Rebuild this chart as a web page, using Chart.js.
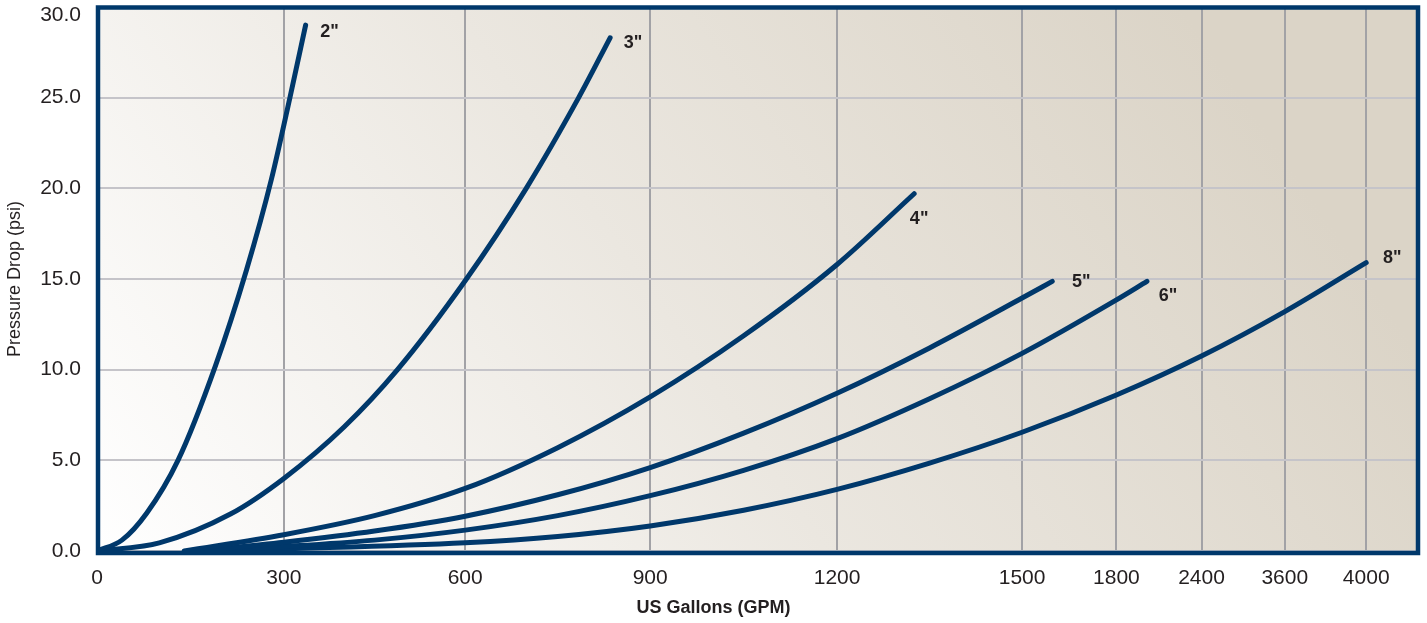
<!DOCTYPE html>
<html>
<head>
<meta charset="utf-8">
<script src="https://cdn.jsdelivr.net/npm/chart.js@4.4.1/dist/chart.umd.min.js"></script>
<style>
html,body{margin:0;padding:0;background:#ffffff;}
#wrap{position:relative;width:1427px;height:623px;}
</style>
</head>
<body>
<div id="wrap"><canvas id="c"></canvas></div>
<script>
// ---------- data ----------
const SERIES_NAMES = ['2"', '3"', '4"', '5"', '6"', '8"'];

const GPM_2 = [0, 40, 80, 130, 190, 240, 280, 310, 336];
const PSI_2 = [0, 0.6, 2.1, 5.0, 10.2, 15.5, 20.5, 25.0, 29.0];

const GPM_3 = [0, 100, 215, 300, 400, 488, 600, 699, 784, 835];
const PSI_3 = [0, 0.45, 2.05, 4.0, 6.85, 10.0, 14.9, 20.0, 25.0, 28.3];

const GPM_4 = [140, 300, 450, 600, 750, 900, 1050, 1200, 1325];
const PSI_4 = [0, 0.9, 1.95, 3.45, 5.7, 8.5, 11.87, 15.8, 19.7];

const GPM_5 = [165, 300, 450, 600, 750, 900, 1050, 1200, 1350, 1500, 1596];
const PSI_5 = [0, 0.48, 1.1, 1.92, 3.1, 4.6, 6.5, 8.7, 11.2, 13.95, 14.87];

const GPM_6 = [165, 300, 450, 600, 750, 900, 1050, 1200, 1350, 1500, 1800, 2015];
const PSI_6 = [0, 0.25, 0.6, 1.15, 1.95, 3.05, 4.45, 6.2, 8.4, 10.9, 13.85, 14.87];

const GPM_8 = [165, 300, 600, 750, 900, 1050, 1200, 1350, 1500, 1800, 2400, 3600, 4000];
const PSI_8 = [0, 0.12, 0.45, 0.8, 1.38, 2.25, 3.4, 4.85, 6.55, 8.6, 10.75, 13.2, 15.9];

const X_TICKS = [0, 300, 600, 900, 1200, 1500, 1800, 2400, 3600, 4000];
const Y_TICKS = [0, 5, 10, 15, 20, 25, 30];

// ---------- axis layout (piecewise GPM axis as drawn) ----------
const X_TICK_UNITS = [0, 1.01, 1.99, 2.99, 4.0, 5.0, 5.51, 5.97, 6.42, 6.86];
const X_UNITS_END = 7.14;

const FONT = "'Liberation Sans', Arial, Helvetica, sans-serif";
const NAVY = '#00386b';
const TEXT = '#231f20';
const LABEL_OFFSETS = [[24, 7], [23, 5], [5, 25], [29, 1], [21, 15], [26, -5]];

function toUnits(v) {
  const t = X_TICKS, u = X_TICK_UNITS, n = t.length;
  if (v <= t[0]) return u[0];
  for (let i = 0; i < n - 1; i++) {
    if (v <= t[i + 1]) return u[i] + (v - t[i]) / (t[i + 1] - t[i]) * (u[i + 1] - u[i]);
  }
  return u[n - 1] + (v - t[n - 1]) / (t[n - 1] - t[n - 2]) * (u[n - 1] - u[n - 2]);
}
function fromUnits(w) {
  const t = X_TICKS, u = X_TICK_UNITS, n = t.length;
  for (let i = 0; i < n - 1; i++) {
    if (w <= u[i + 1]) return t[i] + (w - u[i]) / (u[i + 1] - u[i]) * (t[i + 1] - t[i]);
  }
  return t[n - 1] + (w - u[n - 1]) / (u[n - 1] - u[n - 2]) * (t[n - 1] - t[n - 2]);
}

class BrokenScale extends Chart.LinearScale {
  static id = 'broken';
  static defaults = { ticks: { callback: (v) => String(v) } };
  buildTicks() { return X_TICKS.map(v => ({ value: v })); }
  getPixelForValue(v) { return this.getPixelForDecimal(toUnits(v) / X_UNITS_END); }
  getValueForPixel(p) { return fromUnits(this.getDecimalForPixel(p) * X_UNITS_END); }
}
Chart.register(BrokenScale);

const GPM = [GPM_2, GPM_3, GPM_4, GPM_5, GPM_6, GPM_8];
const PSI = [PSI_2, PSI_3, PSI_4, PSI_5, PSI_6, PSI_8];

const datasets = SERIES_NAMES.map((name, i) => ({
  label: name,
  data: GPM[i].map((g, j) => ({ x: g, y: PSI[i][j] })),
  borderColor: NAVY,
  borderWidth: 5,
  pointRadius: 0,
  fill: false,
  cubicInterpolationMode: 'monotone',
  borderCapStyle: 'round',
  borderJoinStyle: 'round'
}));

const decor = {
  id: 'decor',
  beforeDraw(chart) {
    const { ctx, chartArea: a } = chart;
    const W = a.right - a.left, H = a.bottom - a.top;
    const g = ctx.createLinearGradient(a.left, a.bottom, a.left + W * 0.75, a.top - H * 0.25);
    g.addColorStop(0, '#ffffff');
    g.addColorStop(0.5, '#ebe7e0');
    g.addColorStop(1, '#dbd4c7');
    ctx.save();
    ctx.fillStyle = g;
    ctx.fillRect(a.left, a.top, W, H);
    ctx.restore();
  },
  beforeDatasetsDraw(chart) {
    const { ctx, chartArea: a } = chart;
    ctx.save();
    ctx.strokeStyle = NAVY;
    ctx.lineWidth = 4.5;
    ctx.strokeRect(a.left + 1, a.top + 0.5, a.right - a.left - 1, a.bottom - a.top + 1.5);
    ctx.restore();
  },
  afterDatasetsDraw(chart) {
    const { ctx } = chart;
    ctx.save();
    ctx.font = 'bold 18px ' + FONT;
    ctx.fillStyle = TEXT;
    ctx.textAlign = 'center';
    ctx.textBaseline = 'middle';
    chart.data.datasets.forEach((ds, i) => {
      const pts = chart.getDatasetMeta(i).data;
      const p = pts[pts.length - 1];
      ctx.fillText(ds.label, p.x + LABEL_OFFSETS[i][0], p.y + LABEL_OFFSETS[i][1]);
    });
    // x-axis title, centred on the page as in the original
    ctx.font = 'bold 18px ' + FONT;
    ctx.fillText('US Gallons (GPM)', chart.width / 2, 608);
    ctx.restore();
  }
};

new Chart(document.getElementById('c'), {
  type: 'line',
  data: { datasets },
  plugins: [decor],
  options: {
    responsive: true,
    maintainAspectRatio: false,
    animation: false,
    layout: { padding: { left: 0, top: 7, right: 9, bottom: 0 } },
    plugins: { legend: { display: false }, tooltip: { enabled: false } },
    scales: {
      x: {
        type: 'broken',
        min: 0,
        max: 4000,
        grid: { color: '#a2a2a6', lineWidth: 2, drawTicks: false },
        border: { display: false },
        ticks: {
          autoSkip: false, maxRotation: 0, minRotation: 0, padding: 15,
          color: TEXT, font: { family: FONT, size: 21 },
          callback: (v) => String(v)
        },
        title: { display: false },
        afterFit: (s) => { s.height = 72; s.paddingLeft = 0; s.paddingRight = 0; }
      },
      y: {
        type: 'linear',
        min: 0,
        max: 30,
        afterBuildTicks: (s) => { s.ticks = Y_TICKS.map(v => ({ value: v })); },
        grid: { color: '#c5c4c9', lineWidth: 2, drawTicks: false },
        border: { display: false },
        ticks: {
          padding: 16, color: TEXT,
          font: { family: FONT, size: 21, lineHeight: '16px' },
          callback: (v) => v === 30 ? ['', v.toFixed(1)] : v.toFixed(1)
        },
        title: {
          display: true, text: 'Pressure Drop (psi)', color: TEXT,
          font: { family: FONT, size: 18 },
          padding: { top: 4, bottom: 0 }
        },
        afterFit: (s) => { s.width = 97; s.paddingTop = 0; s.paddingBottom = 0; }
      }
    }
  }
});
</script>
</body>
</html>
